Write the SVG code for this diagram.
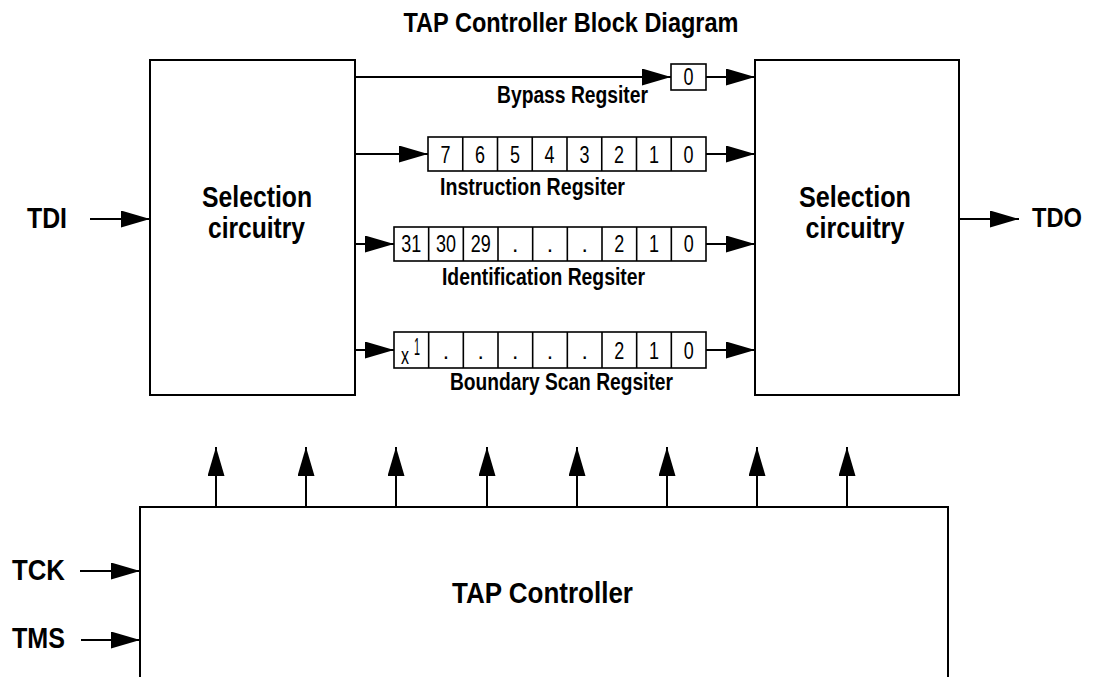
<svg xmlns="http://www.w3.org/2000/svg" width="1093" height="677" viewBox="0 0 1093 677">
<style>
  .box{fill:#fff;stroke:#000;stroke-width:2}
  .cell{fill:#fff;stroke:#000;stroke-width:1.6}
  .ln{stroke:#000;stroke-width:2;fill:none}
  .arr{stroke:#000;stroke-width:2;fill:none;marker-end:url(#ah)}
  .b{font-family:"Liberation Sans",Arial,sans-serif;font-weight:bold;fill:#000}
  .r{font-family:"Liberation Sans",Arial,sans-serif;font-size:23px;fill:#000;text-anchor:middle}
  .m{text-anchor:middle}
</style>
<defs>
  <marker id="ah" markerUnits="userSpaceOnUse" markerWidth="29" markerHeight="17" refX="29" refY="8.5" orient="auto" viewBox="0 0 29 17">
    <path d="M0,0 L29,8.5 L0,17 z" fill="#000"/>
  </marker>
</defs>
<rect width="1093" height="677" fill="#fff"/>
<text class="b m" x="571" y="32" font-size="27" textLength="335" lengthAdjust="spacingAndGlyphs">TAP Controller Block Diagram</text>

<g id="connectors">
  <line class="arr" x1="90" y1="219" x2="150" y2="219"/>
  <line class="arr" x1="959" y1="219" x2="1019" y2="219"/>
  <line class="arr" x1="80" y1="571" x2="140" y2="571"/>
  <line class="arr" x1="81" y1="640" x2="140" y2="640"/>
  <line class="arr" x1="355" y1="77" x2="671" y2="77"/>
  <line class="arr" x1="706" y1="77" x2="755" y2="77"/>
  <line class="arr" x1="355" y1="154" x2="428" y2="154"/>
  <line class="arr" x1="706" y1="154" x2="755" y2="154"/>
  <line class="arr" x1="355" y1="244" x2="394" y2="244"/>
  <line class="arr" x1="706" y1="244" x2="755" y2="244"/>
  <line class="arr" x1="355" y1="350" x2="394" y2="350"/>
  <line class="arr" x1="706" y1="350" x2="755" y2="350"/>
  <line class="arr" x1="216" y1="507" x2="216" y2="447"/>
  <line class="arr" x1="306" y1="507" x2="306" y2="447"/>
  <line class="arr" x1="396" y1="507" x2="396" y2="447"/>
  <line class="arr" x1="487" y1="507" x2="487" y2="447"/>
  <line class="arr" x1="577" y1="507" x2="577" y2="447"/>
  <line class="arr" x1="667" y1="507" x2="667" y2="447"/>
  <line class="arr" x1="757" y1="507" x2="757" y2="447"/>
  <line class="arr" x1="847" y1="507" x2="847" y2="447"/>
</g>

<g id="tdi"><text class="b" x="27" y="228" font-size="30" textLength="40" lengthAdjust="spacingAndGlyphs">TDI</text></g>
<g id="tdo"><text class="b" x="1032" y="227" font-size="28" textLength="50" lengthAdjust="spacingAndGlyphs">TDO</text></g>
<g id="tck"><text class="b" x="12" y="580" font-size="29" textLength="53" lengthAdjust="spacingAndGlyphs">TCK</text></g>
<g id="tms"><text class="b" x="12" y="648" font-size="29" textLength="53" lengthAdjust="spacingAndGlyphs">TMS</text></g>

<g id="sel-left">
  <rect class="box" x="150" y="60" width="205" height="335"/>
  <text class="b m" x="257" y="207" font-size="30" textLength="110" lengthAdjust="spacingAndGlyphs">Selection</text>
  <text class="b m" x="256.5" y="238" font-size="30" textLength="97" lengthAdjust="spacingAndGlyphs">circuitry</text>
</g>

<g id="sel-right">
  <rect class="box" x="755" y="60" width="204" height="335"/>
  <text class="b m" x="855" y="207" font-size="30" textLength="112" lengthAdjust="spacingAndGlyphs">Selection</text>
  <text class="b m" x="855" y="238" font-size="30" textLength="99" lengthAdjust="spacingAndGlyphs">circuitry</text>
</g>

<g id="bypass">
  <rect class="cell" x="671" y="64" width="35" height="26"/>
  <text class="r" x="688.5" y="85" textLength="10" lengthAdjust="spacingAndGlyphs">0</text>
  <text class="b m" x="572.5" y="103" font-size="23" textLength="151" lengthAdjust="spacingAndGlyphs">Bypass Regsiter</text>
</g>

<g id="instruction">
  <rect class="cell" x="428" y="137" width="278" height="34"/>
  <path class="cell" d="M462.75,137V171M497.5,137V171M532.25,137V171M567,137V171M601.75,137V171M636.5,137V171M671.25,137V171"/>
  <text class="r" x="445.4" y="163" textLength="10" lengthAdjust="spacingAndGlyphs">7</text>
  <text class="r" x="480.1" y="163" textLength="10" lengthAdjust="spacingAndGlyphs">6</text>
  <text class="r" x="514.9" y="163" textLength="10" lengthAdjust="spacingAndGlyphs">5</text>
  <text class="r" x="549.6" y="163" textLength="10" lengthAdjust="spacingAndGlyphs">4</text>
  <text class="r" x="584.4" y="163" textLength="10" lengthAdjust="spacingAndGlyphs">3</text>
  <text class="r" x="619.1" y="163" textLength="10" lengthAdjust="spacingAndGlyphs">2</text>
  <text class="r" x="653.9" y="163" textLength="10" lengthAdjust="spacingAndGlyphs">1</text>
  <text class="r" x="688.6" y="163" textLength="10" lengthAdjust="spacingAndGlyphs">0</text>
  <text class="b m" x="532.5" y="195" font-size="23" textLength="185" lengthAdjust="spacingAndGlyphs">Instruction Regsiter</text>
</g>

<g id="identification">
  <rect class="cell" x="394" y="227" width="312" height="34"/>
  <path class="cell" d="M428.67,227V261M463.33,227V261M498,227V261M532.67,227V261M567.33,227V261M602,227V261M636.67,227V261M671.33,227V261"/>
  <text class="r" x="411.3" y="252" textLength="20" lengthAdjust="spacingAndGlyphs">31</text>
  <text class="r" x="446" y="252" textLength="20" lengthAdjust="spacingAndGlyphs">30</text>
  <text class="r" x="480.7" y="252" textLength="20" lengthAdjust="spacingAndGlyphs">29</text>
  <text class="r" x="515.3" y="252">.</text>
  <text class="r" x="550" y="252">.</text>
  <text class="r" x="584.7" y="252">.</text>
  <text class="r" x="619.3" y="252" textLength="10" lengthAdjust="spacingAndGlyphs">2</text>
  <text class="r" x="654" y="252" textLength="10" lengthAdjust="spacingAndGlyphs">1</text>
  <text class="r" x="688.7" y="252" textLength="10" lengthAdjust="spacingAndGlyphs">0</text>
  <text class="b m" x="543.5" y="285" font-size="23" textLength="203" lengthAdjust="spacingAndGlyphs">Identification Regsiter</text>
</g>

<g id="boundary-scan">
  <rect class="cell" x="394" y="332" width="312" height="36"/>
  <path class="cell" d="M428.67,332V368M463.33,332V368M498,332V368M532.67,332V368M567.33,332V368M602,332V368M636.67,332V368M671.33,332V368"/>
  <text class="r" x="405" y="364" textLength="8" lengthAdjust="spacingAndGlyphs">x</text>
  <text class="r" x="417" y="355" font-size="16" textLength="6" lengthAdjust="spacingAndGlyphs">1</text>
  <text class="r" x="446" y="359">.</text>
  <text class="r" x="480.7" y="359">.</text>
  <text class="r" x="515.3" y="359">.</text>
  <text class="r" x="550" y="359">.</text>
  <text class="r" x="584.7" y="359">.</text>
  <text class="r" x="619.3" y="359" textLength="10" lengthAdjust="spacingAndGlyphs">2</text>
  <text class="r" x="654" y="359" textLength="10" lengthAdjust="spacingAndGlyphs">1</text>
  <text class="r" x="688.7" y="359" textLength="10" lengthAdjust="spacingAndGlyphs">0</text>
  <text class="b m" x="561.5" y="390" font-size="23" textLength="223" lengthAdjust="spacingAndGlyphs">Boundary Scan Regsiter</text>
</g>

<g id="tap-controller">
  <path class="ln" d="M140,690V507H948V690"/>
  <text class="b m" x="542.5" y="603" font-size="29" textLength="181" lengthAdjust="spacingAndGlyphs">TAP Controller</text>
</g>
</svg>
